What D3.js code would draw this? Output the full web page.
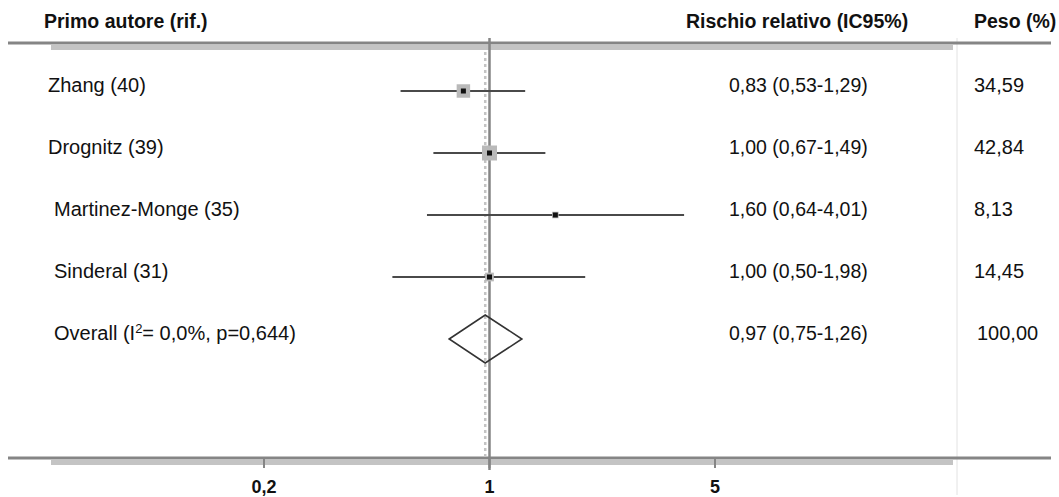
<!DOCTYPE html>
<html>
<head>
<meta charset="utf-8">
<script src="https://cdn.jsdelivr.net/npm/d3@7"></script>
<style>
  body { margin: 0; background: #fff; }
  text { font-family: "Liberation Sans", Arial, sans-serif; fill: #111; }
</style>
</head>
<body>
<div id="viz"></div>
<script>
// Studies (reading order, top to bottom)
const authors = ["Zhang (40)", "Drognitz (39)", "Martinez-Monge (35)", "Sinderal (31)"];
const rr = [0.83, 1.00, 1.60, 1.00];
const lower = [0.53, 0.67, 0.64, 0.50];
const upper = [1.29, 1.49, 4.01, 1.98];
const weights = [34.59, 42.84, 8.13, 14.45];

// Pooled estimate: [rr, lower, upper]
const overallValues = [0.97, 0.75, 1.26];
const overallWeight = 100;

const tickValues = [0.2, 1, 5];
const tickLabels = ["0,2", "1", "5"];
const headers = ["Primo autore (rif.)", "Rischio relativo (IC95%)", "Peso (%)"];

const W = 1059, H = 497;
const colors = {
  axis: "#858585",
  band: "#c4c4c4",
  ci: "#4a4a4a",
  box: "#b9b9b9",
  divider: "#e2e2e2"
};

const it = d3.formatLocale({ decimal: ",", thousands: ".", grouping: [3], currency: ["€", ""] });
const f2 = it.format(".2f");
const ciText = (m, l, u) => `${f2(m)} (${f2(l)}-${f2(u)})`;

const svg = d3.select("#viz").append("svg").attr("width", W).attr("height", H);

const x = d3.scaleLog().domain([0.2, 5]).range([264, 715]);
const y = d3.scalePoint().domain(d3.range(authors.length + 1)).range([91, 339]);
const boxSize = d3.scaleSqrt().domain([0, d3.max(weights)]).range([0, 15]);

const topY = 43, bottomY = 458;
const rowFont = 20, ciFont = 19.5;

// light divider before the weight column
svg.append("line").attr("x1", 957).attr("x2", 957).attr("y1", 38).attr("y2", 495)
  .attr("stroke", colors.divider).attr("stroke-width", 1);

// horizontal rules with the lighter band under them
[topY, bottomY].forEach(ry => {
  svg.append("rect").attr("x", 51).attr("y", ry + 2).attr("width", 902).attr("height", 5)
    .attr("fill", colors.band);
  svg.append("line").attr("x1", 8).attr("x2", 1051).attr("y1", ry).attr("y2", ry)
    .attr("stroke", colors.axis).attr("stroke-width", 3);
});

// headers
const hdr = svg.append("g").attr("font-weight", "bold").attr("font-size", 19.5);
hdr.append("text").attr("x", 44).attr("y", 28).text(headers[0]);
hdr.append("text").attr("x", 686).attr("y", 28).text(headers[1]);
hdr.append("text").attr("x", 974).attr("y", 28).text(headers[2]);

// dashed line at the pooled estimate
svg.append("line")
  .attr("x1", x(overallValues[0])).attr("x2", x(overallValues[0]))
  .attr("y1", topY + 3).attr("y2", bottomY + 7)
  .attr("stroke", colors.band).attr("stroke-width", 2.5).attr("stroke-dasharray", "3,3");

// line of no effect
svg.append("line").attr("x1", x(1)).attr("x2", x(1)).attr("y1", 38).attr("y2", 470)
  .attr("stroke", colors.axis).attr("stroke-width", 2.5);

// x axis ticks + labels
const ax = svg.append("g");
ax.selectAll("line.tick").data(tickValues).join("line")
  .attr("x1", d => x(d)).attr("x2", d => x(d))
  .attr("y1", bottomY).attr("y2", bottomY + 10)
  .attr("stroke", colors.axis).attr("stroke-width", 2);
ax.selectAll("text").data(tickValues).join("text")
  .attr("x", d => x(d)).attr("y", 493)
  .attr("text-anchor", "middle").attr("font-weight", "bold").attr("font-size", 18)
  .text((d, i) => tickLabels[i]);

// study rows
const rows = svg.selectAll("g.study").data(authors).join("g").attr("class", "study");

rows.append("line")
  .attr("x1", (d, i) => x(lower[i])).attr("x2", (d, i) => x(upper[i]))
  .attr("y1", (d, i) => y(i)).attr("y2", (d, i) => y(i))
  .attr("stroke", colors.ci).attr("stroke-width", 2);

rows.append("rect")
  .attr("x", (d, i) => x(rr[i]) - boxSize(weights[i]) / 2)
  .attr("y", (d, i) => y(i) - boxSize(weights[i]) / 2)
  .attr("width", (d, i) => boxSize(weights[i]))
  .attr("height", (d, i) => boxSize(weights[i]))
  .attr("fill", colors.box);

rows.append("rect")
  .attr("x", (d, i) => x(rr[i]) - 2.5).attr("y", (d, i) => y(i) - 2.5)
  .attr("width", 5).attr("height", 5).attr("fill", "#111");

rows.append("text")
  .attr("x", (d, i) => i < 2 ? 48 : 54).attr("y", (d, i) => y(i) + 1)
  .attr("font-size", rowFont).text(d => d);

rows.append("text")
  .attr("x", 729).attr("y", (d, i) => y(i) + 1)
  .attr("font-size", ciFont).text((d, i) => ciText(rr[i], lower[i], upper[i]));

rows.append("text")
  .attr("x", 974).attr("y", (d, i) => y(i) + 1)
  .attr("font-size", rowFont).text((d, i) => f2(weights[i]));

// pooled row
const oy = y(authors.length);
const [om, ol, ou] = overallValues;
svg.append("path")
  .attr("d", `M${x(ol)},${oy} L${x(om)},${oy - 24} L${x(ou)},${oy} L${x(om)},${oy + 24} Z`)
  .attr("fill", "none").attr("stroke", "#333").attr("stroke-width", 1.6);

const ot = svg.append("text").attr("x", 54).attr("y", oy + 1).attr("font-size", rowFont);
ot.append("tspan").text("Overall (I");
ot.append("tspan").attr("font-size", 13).attr("dy", -7).text("2");
ot.append("tspan").attr("dy", 7).text("= 0,0%, p=0,644)");

svg.append("text").attr("x", 729).attr("y", oy + 1).attr("font-size", ciFont)
  .text(ciText(om, ol, ou));
svg.append("text").attr("x", 977).attr("y", oy + 1).attr("font-size", rowFont)
  .text(f2(overallWeight));
</script>
</body>
</html>
